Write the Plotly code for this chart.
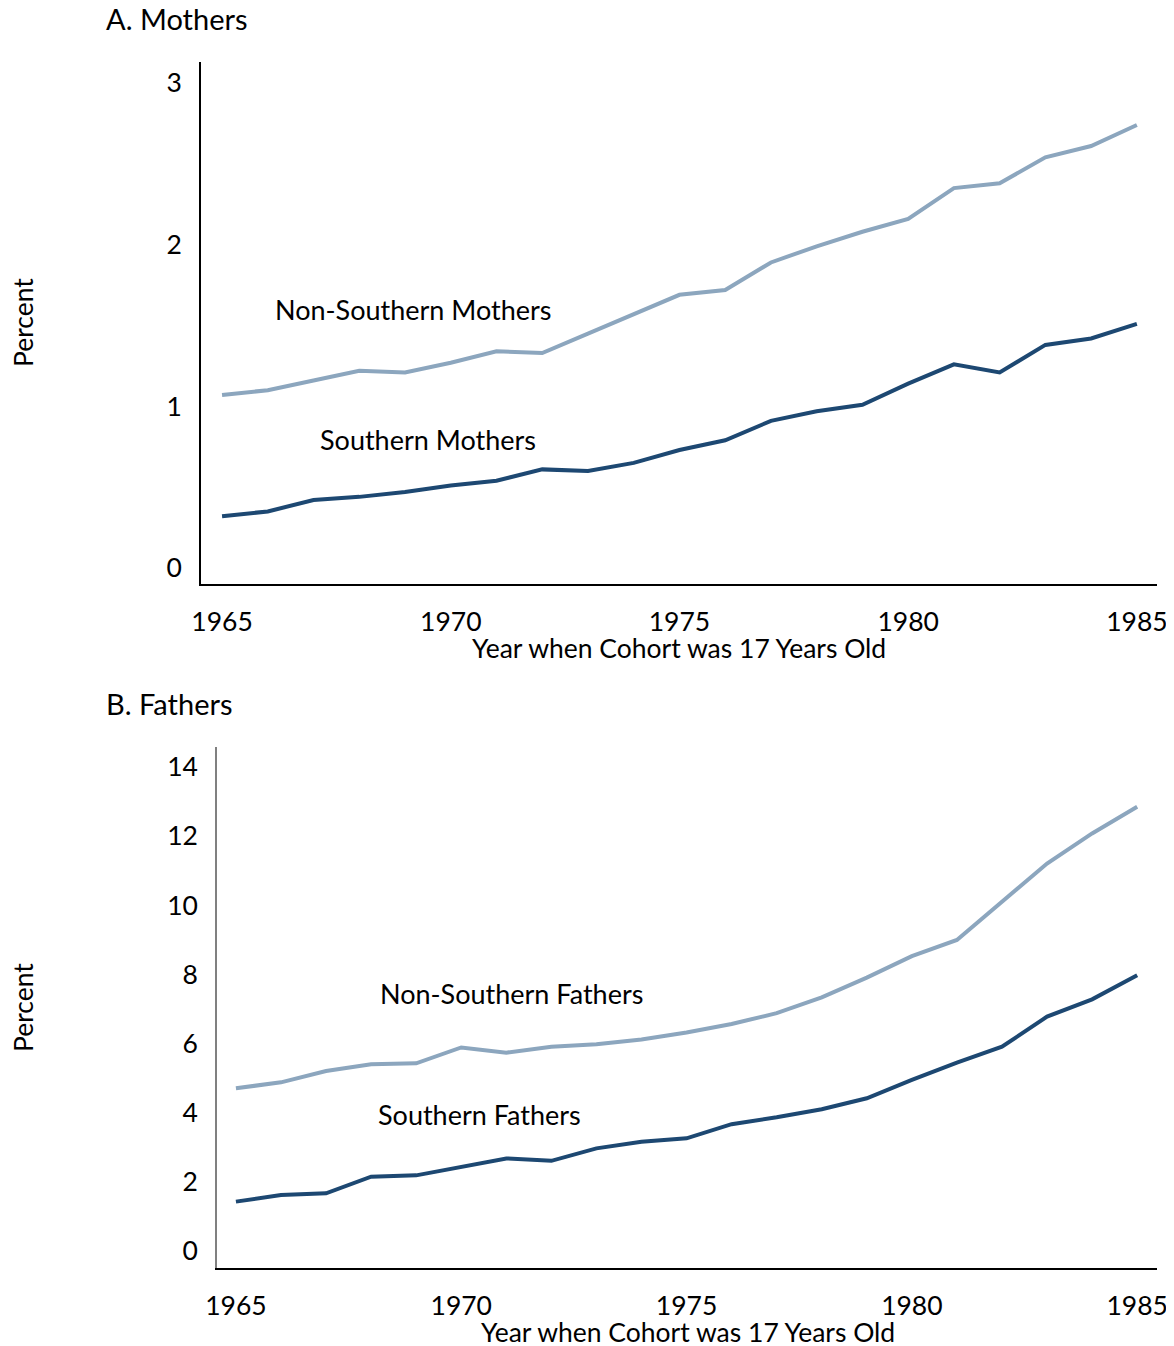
import plotly.graph_objects as go

years = list(range(1965, 1986))

nonsouth_mothers = [1.07, 1.10, 1.16, 1.22, 1.21, 1.27, 1.34, 1.33, 1.45, 1.57, 1.69,
                    1.72, 1.89, 1.99, 2.08, 2.16, 2.35, 2.38, 2.54, 2.61, 2.74]
south_mothers = [0.32, 0.35, 0.42, 0.44, 0.47, 0.51, 0.54, 0.61, 0.60, 0.65, 0.73,
                 0.79, 0.91, 0.97, 1.01, 1.14, 1.26, 1.21, 1.38, 1.42, 1.51]
nonsouth_fathers = [4.71, 4.88, 5.21, 5.40, 5.43, 5.89, 5.74, 5.91, 5.98, 6.12, 6.32,
                    6.57, 6.88, 7.34, 7.91, 8.53, 9.00, 10.10, 11.21, 12.08, 12.85]
south_fathers = [1.43, 1.62, 1.67, 2.15, 2.19, 2.44, 2.68, 2.61, 2.97, 3.16, 3.26,
                 3.67, 3.87, 4.10, 4.42, 4.95, 5.45, 5.91, 6.78, 7.28, 7.98]

x_ticks = [1965, 1970, 1975, 1980, 1985]
mothers_yticks = [0, 1, 2, 3]
fathers_yticks = [0, 2, 4, 6, 8, 10, 12, 14]

# page body margin offset
OFF = 8
W, H = 1174 - OFF, 1346 - OFF
FONT = "Lato"
FS = 26.5
DARK = "#1D4872"
LIGHT = "#8CA6BE"

def px(x):
    return (x - OFF) / W

def py(y):
    return 1 - (y - OFF) / H

fig = go.Figure()
fig.add_trace(go.Scatter(x=years, y=nonsouth_mothers, mode="lines",
                         line=dict(color=LIGHT, width=4), xaxis="x", yaxis="y"))
fig.add_trace(go.Scatter(x=years, y=south_mothers, mode="lines",
                         line=dict(color=DARK, width=4), xaxis="x", yaxis="y"))
fig.add_trace(go.Scatter(x=years, y=nonsouth_fathers, mode="lines",
                         line=dict(color=LIGHT, width=4), xaxis="x2", yaxis="y2"))
fig.add_trace(go.Scatter(x=years, y=south_fathers, mode="lines",
                         line=dict(color=DARK, width=4), xaxis="x2", yaxis="y2"))

tickfont = dict(family=FONT, size=FS, color="black")
common = dict(showgrid=False, zeroline=False, showline=True, ticks="",
              tickfont=tickfont, automargin=False)

fig.update_layout(
    template="none",
    width=W, height=H,
    margin=dict(l=0, r=0, t=0, b=0, autoexpand=False),
    paper_bgcolor="white", plot_bgcolor="white",
    showlegend=False,
    xaxis=dict(domain=[px(201), px(1157)], range=[1964.54, 1985.44],
               tickvals=x_ticks, linecolor="black", linewidth=1.5,
               ticklabelstandoff=13, anchor="y", **common),
    yaxis=dict(domain=[py(584), py(62)], range=[-0.099, 3.13],
               tickvals=mothers_yticks, linecolor="black", linewidth=1.5,
               ticklabelstandoff=12, anchor="x", **common),
    xaxis2=dict(domain=[px(217), px(1157)], range=[1964.58, 1985.44],
                tickvals=x_ticks, linecolor="black", linewidth=1.5,
                ticklabelstandoff=13, anchor="y2", **common),
    yaxis2=dict(domain=[py(1268), py(747)], range=[-0.49, 14.58],
                tickvals=fathers_yticks, linecolor="#808080", linewidth=1.5,
                ticklabelstandoff=12, anchor="x2", **common),
)

def txt(x, y, s, size=FS, angle=0, xanchor="center"):
    fig.add_annotation(x=px(x), y=py(y), xref="paper", yref="paper", text=s,
                       showarrow=False, xanchor=xanchor, yanchor="middle",
                       textangle=angle, font=dict(family=FONT, size=size, color="black"))

txt(104, 19, "A. Mothers", 29, xanchor="left")
txt(104, 703, "B. Fathers", 29, xanchor="left")
txt(23, 323, "Percent", FS, angle=-90)
txt(23, 1008, "Percent", FS, angle=-90)
txt(679, 648, "Year when Cohort was 17 Years Old", FS)
txt(688, 1332, "Year when Cohort was 17 Years Old", FS)
txt(273, 309, "Non-Southern Mothers", 27, xanchor="left")
txt(318, 439, "Southern Mothers", 27, xanchor="left")
txt(378, 993, "Non-Southern Fathers", 27, xanchor="left")
txt(376, 1114, "Southern Fathers", 27, xanchor="left")

fig.write_html("out.html")
